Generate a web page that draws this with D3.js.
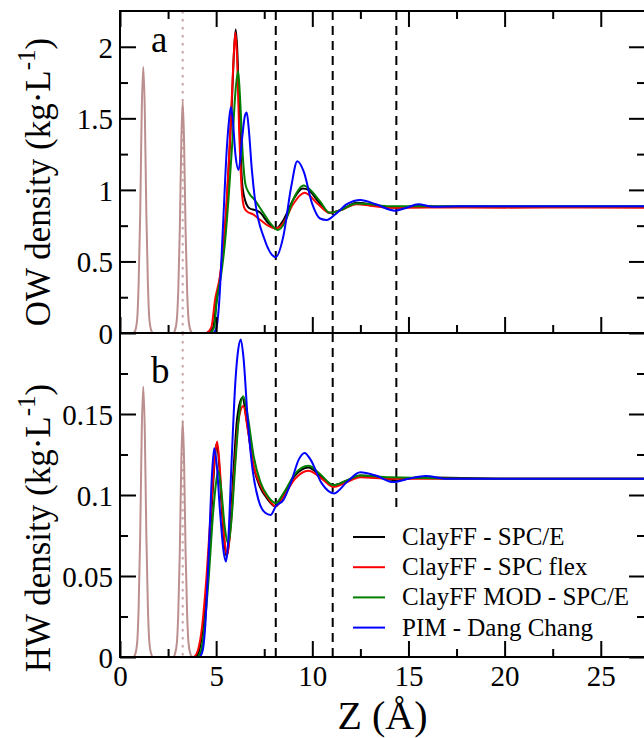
<!DOCTYPE html>
<html><head><meta charset="utf-8">
<script src="https://cdn.jsdelivr.net/npm/d3@7/dist/d3.min.js"></script>
<style>body{margin:0;background:#fff}svg{display:block;overflow:hidden}
text{font-family:"Liberation Serif","Times New Roman",serif}</style>
</head><body><svg id="c" width="644" height="738"></svg>
<script>
// ---------------- data ----------------
const xMajor = [0, 5, 10, 15, 20, 25];
const xMinor = [2.5, 7.5, 12.5, 17.5, 22.5];
const owMajor = [0, 0.5, 1, 1.5, 2];
const owMinor = [0.25, 0.75, 1.25, 1.75];
const hwMajor = [0, 0.05, 0.1, 0.15];
const hwMinor = [0.025, 0.075, 0.125, 0.175];
const dashedZ = [8.1, 11.06, 14.37];
const dottedZ = 3.26;
const seriesNames = ["ClayFF - SPC/E", "ClayFF - SPC flex", "ClayFF MOD - SPC/E", "PIM - Dang Chang"];
const seriesColors = ["#000000", "#ff0000", "#008000", "#0000ff"];
const panelLetters = ["a", "b"];

// clay atom profiles (brown)
const owClay = [[0.7,0],[0.8,0.02],[0.9,0.11],[0.97,0.35],[1.05,0.83],[1.13,1.55],[1.21,1.86],[1.29,1.55],[1.37,0.83],[1.45,0.35],[1.52,0.11],[1.62,0.02],[1.72,0],
  [2.76,0],[2.86,0.02],[2.96,0.1],[3.03,0.3],[3.11,0.72],[3.19,1.35],[3.26,1.62],[3.33,1.35],[3.41,0.72],[3.49,0.3],[3.56,0.1],[3.66,0.02],[3.76,0]];
const hwClay = [[0.7,0],[0.8,0.002],[0.9,0.01],[0.97,0.031],[1.05,0.075],[1.13,0.139],[1.21,0.167],[1.29,0.139],[1.37,0.075],[1.45,0.031],[1.52,0.01],[1.62,0.002],[1.72,0],
  [2.76,0],[2.86,0.002],[2.96,0.009],[3.03,0.027],[3.11,0.065],[3.19,0.122],[3.26,0.146],[3.33,0.122],[3.41,0.065],[3.49,0.027],[3.56,0.009],[3.66,0.002],[3.76,0]];

// OW density (panel a)
const owBlack = [[4.6,0],[4.85,0.04],[5.0,0.2],[5.2,0.38],[5.4,0.62],[5.55,0.9],[5.7,1.28],[5.82,1.62],[5.93,1.97],[6.02,2.12],[6.1,1.97],[6.22,1.45],[6.35,1.05],[6.5,0.93],[6.75,0.87],[7.0,0.86],[7.3,0.84],[7.7,0.77],[8.1,0.73],[8.5,0.79],[9.0,0.93],[9.5,1.01],[9.8,1.0],[10.3,0.92],[10.9,0.84],[11.5,0.86],[12.3,0.91],[13.0,0.9],[14.0,0.878],[14.4,0.876],[15.5,0.886],[17,0.882],[20,0.881],[24,0.881],[27.3,0.881]];
const owRed = [[4.5,0],[4.75,0.04],[4.94,0.23],[5.2,0.4],[5.4,0.65],[5.55,0.93],[5.7,1.3],[5.81,1.63],[5.92,1.95],[6.0,2.1],[6.08,1.95],[6.2,1.4],[6.33,1.0],[6.45,0.88],[6.6,0.85],[6.9,0.83],[7.3,0.79],[7.7,0.75],[8.1,0.73],[8.5,0.77],[9.0,0.9],[9.6,0.98],[10.3,0.9],[10.9,0.84],[11.5,0.86],[12.3,0.9],[13,0.89],[14,0.875],[16,0.877],[20,0.876],[24,0.877],[27.3,0.876]];
const owGreen = [[4.7,0],[4.9,0.04],[5.03,0.23],[5.25,0.4],[5.45,0.62],[5.65,0.95],[5.85,1.35],[6.0,1.68],[6.14,1.83],[6.24,1.65],[6.38,1.25],[6.52,1.04],[6.7,0.98],[7.0,0.93],[7.4,0.85],[7.8,0.77],[8.2,0.72],[8.6,0.78],[9.0,0.93],[9.55,1.03],[9.9,1.0],[10.4,0.92],[10.9,0.84],[11.5,0.86],[12.3,0.905],[13,0.9],[14,0.886],[16,0.886],[20,0.885],[27.3,0.885]];
const owBlue = [[4.85,0],[5.0,0.03],[5.15,0.2],[5.34,0.7],[5.55,1.28],[5.68,1.5],[5.77,1.58],[5.87,1.48],[6.0,1.25],[6.17,1.14],[6.35,1.36],[6.5,1.52],[6.59,1.54],[6.7,1.42],[6.85,1.15],[7.02,0.93],[7.5,0.66],[8.1,0.53],[8.5,0.68],[8.9,1.02],[9.22,1.2],[9.55,1.13],[10.0,0.9],[10.4,0.8],[10.75,0.79],[11.2,0.83],[11.8,0.9],[12.5,0.93],[13.3,0.9],[14.3,0.855],[14.9,0.875],[15.5,0.9],[16.3,0.882],[17.5,0.886],[20,0.885],[27.3,0.885]];

// HW density (panel b)
const hwBlack = [[3.95,0],[4.12,0.004],[4.3,0.017],[4.55,0.05],[4.8,0.098],[4.95,0.125],[5.03,0.132],[5.15,0.12],[5.3,0.09],[5.45,0.068],[5.55,0.062],[5.7,0.075],[5.9,0.115],[6.1,0.148],[6.36,0.16],[6.6,0.145],[6.9,0.12],[7.28,0.105],[7.7,0.097],[8.06,0.093],[8.5,0.1],[9.1,0.112],[9.8,0.117],[10.4,0.112],[11.1,0.106],[11.8,0.109],[12.5,0.112],[13.5,0.111],[14.4,0.109],[15.5,0.111],[20,0.110],[27.3,0.110]];
const hwRed = [[3.85,0],[4.05,0.004],[4.25,0.017],[4.5,0.05],[4.75,0.095],[4.92,0.122],[5.05,0.133],[5.2,0.115],[5.35,0.085],[5.5,0.066],[5.58,0.063],[5.75,0.08],[5.95,0.115],[6.15,0.145],[6.41,0.155],[6.65,0.14],[6.95,0.118],[7.3,0.106],[7.7,0.098],[8.1,0.093],[8.5,0.099],[9.1,0.11],[9.8,0.115],[10.5,0.11],[11.1,0.105],[11.8,0.108],[12.5,0.111],[14,0.11],[20,0.110],[27.3,0.110]];
const hwGreen = [[4.05,0],[4.22,0.004],[4.38,0.017],[4.62,0.05],[4.85,0.09],[5.0,0.108],[5.11,0.115],[5.25,0.105],[5.45,0.08],[5.62,0.07],[5.8,0.085],[6.0,0.12],[6.2,0.15],[6.41,0.161],[6.65,0.148],[6.95,0.124],[7.3,0.108],[7.7,0.099],[8.1,0.095],[8.5,0.101],[9.1,0.113],[9.8,0.118],[10.4,0.113],[11.1,0.106],[11.8,0.109],[12.5,0.112],[14,0.111],[20,0.110],[27.3,0.110]];
const hwBlue = [[4.15,0],[4.3,0.004],[4.42,0.017],[4.6,0.06],[4.78,0.112],[4.9,0.129],[5.02,0.12],[5.2,0.09],[5.4,0.064],[5.51,0.059],[5.62,0.07],[5.8,0.12],[6.0,0.17],[6.15,0.19],[6.28,0.196],[6.42,0.185],[6.65,0.145],[6.9,0.115],[7.2,0.097],[7.55,0.089],[7.84,0.0877],[8.1,0.093],[8.5,0.097],[8.9,0.108],[9.3,0.122],[9.6,0.126],[9.9,0.122],[10.5,0.107],[11.13,0.101],[11.8,0.108],[12.5,0.114],[13.3,0.112],[14.2,0.108],[15.0,0.11],[15.9,0.1117],[17,0.110],[20,0.110],[27.3,0.110]];

// ---------------- layout ----------------
const svg = d3.select("#c");
const FONT = "Liberation Serif";
const L = 120, R = 645;
const panels = [
  {top: 11, bottom: 333, domain: [0, 2.25], major: owMajor, minor: owMinor, clay: owClay,
   series: [owBlack, owRed, owGreen, owBlue], topTicks: true,
   title: "OW density (kg·L", titleX: 50, titleY: 182, letterY: 52, dash3Stop: 0},
  {top: 333, bottom: 657, domain: [0, 0.2], major: hwMajor, minor: hwMinor, clay: hwClay,
   series: [hwBlack, hwRed, hwGreen, hwBlue], topTicks: false,
   title: "HW density (kg·L", titleX: 50, titleY: 528, letterY: 383, dash3Stop: 0.0908}
];
const x = d3.scaleLinear().domain([0, 27.3]).range([L, R]);
const MAJ = 16, MIN = 8;

svg.append("defs").selectAll("clipPath").data(panels).join("clipPath")
  .attr("id", (d, i) => "clip" + i)
  .append("rect").attr("x", L).attr("y", d => d.top).attr("width", R - L).attr("height", d => d.bottom - d.top);

panels.forEach((p, i) => {
  const y = d3.scaleLinear().domain(p.domain).range([p.bottom, p.top]);
  const g = svg.append("g");
  const plot = g.append("g").attr("clip-path", `url(#clip${i})`);

  plot.append("line").attr("x1", x(dottedZ)).attr("x2", x(dottedZ))
    .attr("y1", p.top).attr("y2", p.bottom)
    .attr("stroke", "#c9a3a3").attr("stroke-width", 2).attr("stroke-dasharray", "2.5,5.5");

  dashedZ.forEach((z, k) => {
    const yEnd = (k === 2) ? y(p.dash3Stop) : p.bottom;
    plot.append("line").attr("x1", x(z)).attr("x2", x(z))
      .attr("y1", p.top).attr("y2", yEnd)
      .attr("stroke", "#000").attr("stroke-width", 2).attr("stroke-dasharray", "9,6");
  });

  const line = d3.line().x(d => x(d[0])).y(d => y(d[1])).curve(d3.curveMonotoneX);
  plot.append("path").datum(p.clay).attr("d", line)
    .attr("fill", "none").attr("stroke", "#bc8f8f").attr("stroke-width", 2);
  p.series.forEach((s, k) => {
    plot.append("path").datum(s).attr("d", line)
      .attr("fill", "none").attr("stroke", seriesColors[k]).attr("stroke-width", 2)
      .attr("stroke-linejoin", "round");
  });

  const styleAxis = sel => {
    sel.select(".domain").remove();
    sel.selectAll(".tick line").attr("stroke", "#000").attr("stroke-width", 2);
    sel.selectAll("text").attr("font-family", FONT).attr("font-size", 29).attr("fill", "#000");
  };
  g.append("g").attr("transform", `translate(${L},0)`)
    .call(d3.axisLeft(y).tickValues(p.major).tickSize(-MAJ).tickPadding(7).tickFormat(d => String(d)))
    .call(styleAxis).selectAll("text").attr("dy", "0.36em");
  g.append("g").attr("transform", `translate(${L},0)`)
    .call(d3.axisLeft(y).tickValues(p.minor).tickSize(-MIN).tickFormat(""))
    .call(styleAxis);
  g.append("g").attr("transform", `translate(${R},0)`)
    .call(d3.axisRight(y).tickValues(p.major).tickSize(-MAJ).tickFormat(""))
    .call(styleAxis);
  g.append("g").attr("transform", `translate(${R},0)`)
    .call(d3.axisRight(y).tickValues(p.minor).tickSize(-MIN).tickFormat(""))
    .call(styleAxis);
  const bottomAxis = d3.axisBottom(x).tickValues(xMajor).tickSize(-MAJ).tickPadding(8)
    .tickFormat(i === 1 ? (d => String(d)) : "");
  g.append("g").attr("transform", `translate(0,${p.bottom})`).call(bottomAxis).call(styleAxis);
  g.append("g").attr("transform", `translate(0,${p.bottom})`)
    .call(d3.axisBottom(x).tickValues(xMinor).tickSize(-MIN).tickFormat("")).call(styleAxis);
  if (p.topTicks) {
    g.append("g").attr("transform", `translate(0,${p.top})`)
      .call(d3.axisTop(x).tickValues(xMajor).tickSize(-MAJ).tickFormat("")).call(styleAxis);
    g.append("g").attr("transform", `translate(0,${p.top})`)
      .call(d3.axisTop(x).tickValues(xMinor).tickSize(-MIN).tickFormat("")).call(styleAxis);
  }

  g.append("rect").attr("x", L).attr("y", p.top).attr("width", R - L).attr("height", p.bottom - p.top)
    .attr("fill", "none").attr("stroke", "#000").attr("stroke-width", 2);

  g.append("text").attr("x", 151).attr("y", p.letterY).text(panelLetters[i])
    .attr("font-family", FONT).attr("font-size", 37);

  const t = g.append("text").attr("transform", `translate(${p.titleX},${p.titleY}) rotate(-90)`)
    .attr("text-anchor", "middle").attr("font-family", FONT).attr("font-size", 35);
  t.append("tspan").text(p.title);
  t.append("tspan").attr("font-size", 25).attr("dy", "-0.62em").text("-1");
  t.append("tspan").attr("dy", "0.43em").text(")");
});

svg.append("text").attr("x", (L + R) / 2).attr("y", 729).attr("text-anchor", "middle")
  .attr("font-family", FONT).attr("font-size", 40).text("Z (Å)");

const leg = svg.append("g").attr("transform", "translate(353,537)");
seriesNames.forEach((n, k) => {
  const row = leg.append("g").attr("transform", `translate(0,${k * 30.2})`);
  row.append("line").attr("x1", 0).attr("x2", 32).attr("stroke", seriesColors[k]).attr("stroke-width", 2);
  row.append("text").attr("x", 49).attr("y", 8).text(n)
    .attr("font-family", FONT).attr("font-size", 25);
});
</script></body></html>
